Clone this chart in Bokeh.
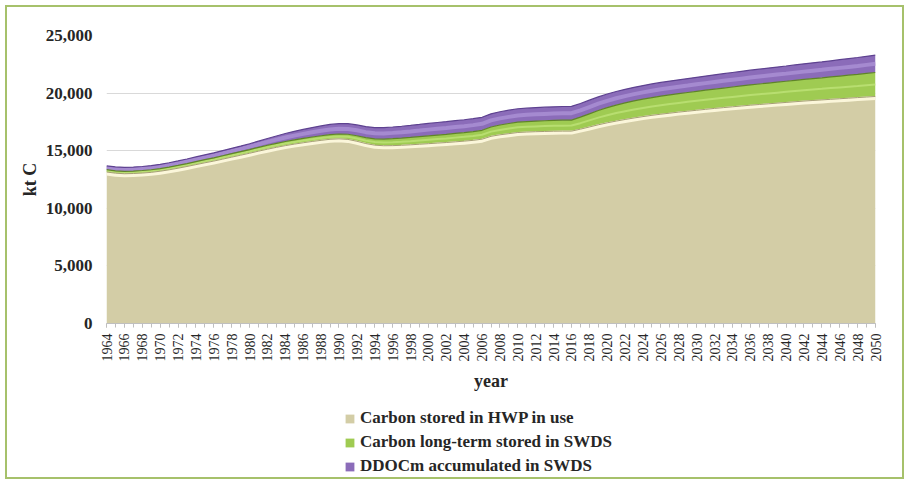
import numpy as np
from bokeh.plotting import figure
from bokeh.layouts import column
from bokeh.models import (ColumnDataSource, Range1d, FixedTicker, NumeralTickFormatter,
                          Legend, LegendItem)
from bokeh.embed import file_html
from bokeh.resources import INLINE

# ---------------- data (kt C) ----------------
years = list(range(1964, 2051))

hwp_in_use = [
    13150, 13050, 13000, 13020, 13060, 13120, 13220, 13340, 13480, 13630, 13790, 13950, 14100, 14270, 14440, 14610, 14780,
    14960, 15130, 15290, 15440, 15570, 15690, 15800, 15900, 15990, 16030,
    15980, 15820, 15620, 15480, 15430, 15440, 15470, 15510, 15560, 15610,
    15660, 15710, 15770, 15830, 15900, 16000, 16250, 16380, 16480, 16580,
    16620, 16650, 16670, 16690, 16700, 16700, 16870, 17060, 17250, 17420,
    17570, 17710, 17840, 17960, 18070, 18170, 18260, 18350, 18430, 18510,
    18590, 18670, 18740, 18810, 18880, 18950, 19010, 19070, 19130, 19190,
    19250, 19310, 19360, 19410, 19460, 19510, 19560, 19610, 19660, 19710,
]

swds_long_term = [
    200, 205, 210, 215, 220, 225, 230, 235, 240, 250, 260, 270, 280, 290, 300, 310, 320,
    330, 340, 350, 360, 370, 380, 390, 400, 410, 420,
    450, 480, 510, 540, 570, 600, 620, 640, 660, 680,
    700, 715, 730, 745, 760, 770, 810, 850, 880, 900,
    910, 920, 930, 940, 950, 960, 1040, 1140, 1240, 1320,
    1390, 1440, 1480, 1510, 1540, 1560, 1580, 1600, 1620, 1640,
    1660, 1680, 1700, 1720, 1740, 1760, 1780, 1800, 1820, 1840,
    1860, 1880, 1900, 1920, 1945, 1970, 1995, 2020, 2050, 2080,
]

ddocm_accumulated = [
    330, 335, 340, 345, 350, 360, 370, 380, 390, 400, 410, 420, 435, 450, 465, 480, 500,
    540, 590, 640, 690, 740, 780, 820, 850, 880, 900,
    920, 940, 960, 980, 1000, 1015, 1030, 1045, 1060, 1080,
    1090, 1100, 1105, 1110, 1120, 1130, 1140, 1150, 1155, 1160,
    1165, 1170, 1175, 1180, 1185, 1190, 1190, 1185, 1180, 1180,
    1180, 1180, 1180, 1185, 1190, 1195, 1200, 1205, 1210, 1220,
    1230, 1240, 1250, 1260, 1270, 1280, 1290, 1300, 1310, 1320,
    1335, 1350, 1365, 1380, 1400, 1420, 1440, 1460, 1480, 1500,
]

series_labels = ["Carbon stored in HWP in use",
                 "Carbon long-term stored in SWDS",
                 "DDOCm accumulated in SWDS"]
tick_years = years[::2]
y_ticks = [0, 5000, 10000, 15000, 20000, 25000]

assert len(hwp_in_use) == len(years) == len(swds_long_term) == len(ddocm_accumulated)

# ---------------- styling ----------------
fill_colors = ["#D3CDA6", "#9FCB52", "#8B6CB9"]
edge_colors = ["#A49E74", "#5F8428", "#5E4290"]
mid_colors = ["#FBF6DA", "#B8DE70", "#A58AD0"]
SERIF = "Liberation Serif"
W = 895

h = np.array(hwp_in_use, dtype=float)
g = np.array(swds_long_term, dtype=float)
d = np.array(ddocm_accumulated, dtype=float)
top1 = h
top2 = h + g
top3 = h + g + d

source = ColumnDataSource(dict(
    year=years, hwp=hwp_in_use, swds=swds_long_term, ddocm=ddocm_accumulated,
    top1=top1, top2=top2, top3=top3,
    hi1=top1 - 130, mid2=(top1 + top2) / 2, mid3=(top2 + top3) / 2,
))

p = figure(width=W, height=390, output_backend="svg", toolbar_location=None,
           x_range=Range1d(years[0], years[-1]), y_range=Range1d(0, 25000),
           min_border_left=99, min_border_right=27, min_border_top=28, min_border_bottom=74)
p.outline_line_color = None
p.background_fill_color = "white"
p.border_fill_color = "white"

renderers = p.varea_stack(stackers=["hwp", "swds", "ddocm"], x="year", color=fill_colors, source=source)

# bevel-like highlights and edges
p.line("year", "hi1", source=source, line_color=mid_colors[0], line_width=4)
p.line("year", "mid2", source=source, line_color=mid_colors[1], line_width=2)
p.line("year", "mid3", source=source, line_color=mid_colors[2], line_width=4)
p.line("year", "top1", source=source, line_color=edge_colors[0], line_width=1)
p.line("year", "top2", source=source, line_color=edge_colors[1], line_width=1.2)
p.line("year", "top3", source=source, line_color=edge_colors[2], line_width=1.2)

# grid
p.xgrid.visible = False
p.ygrid.ticker = FixedTicker(ticks=y_ticks)
p.ygrid.grid_line_color = "#D9D9D9"
p.ygrid.grid_line_width = 1

# y axis
p.yaxis.ticker = FixedTicker(ticks=y_ticks)
p.yaxis.formatter = NumeralTickFormatter(format="0,0")
p.yaxis.axis_line_color = None
p.yaxis.major_tick_line_color = None
p.yaxis.minor_tick_line_color = None
p.yaxis.major_label_standoff = 8
p.yaxis.major_label_text_font = SERIF
p.yaxis.major_label_text_font_style = "bold"
p.yaxis.major_label_text_font_size = "17px"
p.yaxis.major_label_text_color = "#262626"
p.yaxis.axis_label = "kt C"
p.yaxis.axis_label_text_font = SERIF
p.yaxis.axis_label_text_font_style = "bold"
p.yaxis.axis_label_text_font_size = "18px"
p.yaxis.axis_label_text_color = "#262626"
p.yaxis.axis_label_standoff = 3

# x axis
p.xaxis.ticker = FixedTicker(ticks=tick_years, minor_ticks=years)
p.xaxis.major_label_overrides = {yr: str(yr) for yr in tick_years}
p.xaxis.major_label_orientation = np.pi / 2
p.xaxis.axis_line_color = "#BFBFBF"
p.xaxis.major_tick_line_color = "#BFBFBF"
p.xaxis.minor_tick_line_color = "#BFBFBF"
p.xaxis.major_tick_in = 0
p.xaxis.major_tick_out = 4
p.xaxis.minor_tick_in = 0
p.xaxis.minor_tick_out = 4
p.xaxis.major_label_standoff = 6
p.xaxis.major_label_text_font = SERIF
p.xaxis.major_label_text_font_size = "14px"
p.xaxis.major_label_text_color = "#262626"
p.xaxis.axis_label = "year"
p.xaxis.axis_label_text_font = SERIF
p.xaxis.axis_label_text_font_style = "bold"
p.xaxis.axis_label_text_font_size = "18px"
p.xaxis.axis_label_text_color = "#262626"
p.xaxis.axis_label_standoff = 6

# ---------------- legend strip (separate figure so the legend is not clipped) ----------------
p2 = figure(width=W, height=80, output_backend="svg", toolbar_location=None,
            x_range=Range1d(0, 1), y_range=Range1d(0, 1),
            min_border=0, x_axis_type=None, y_axis_type=None)
p2.outline_line_color = None
p2.xgrid.visible = False
p2.ygrid.visible = False
p2.background_fill_color = "white"
p2.border_fill_color = "white"
# same series drawn outside the strip's visible range: only their legend swatches show
legend_renderers = p2.varea_stack(stackers=["hwp", "swds", "ddocm"], x="year",
                                  color=fill_colors, source=source)

items = [LegendItem(label=lab, renderers=[r]) for lab, r in zip(series_labels, legend_renderers)]
legend = Legend(items=items, location=(238, 1), orientation="vertical",
                padding=0, margin=0, spacing=4, label_height=20,
                glyph_width=11, glyph_height=11, label_standoff=5,
                border_line_color=None, background_fill_alpha=0)
legend.label_text_font = SERIF
legend.label_text_font_style = "bold"
legend.label_text_font_size = "17px"
legend.label_text_color = "#262626"
p2.add_layout(legend, "center")

layout = column(p, p2, spacing=0,
                styles={"border": "2px solid #A6C16B", "margin-left": "5px", "margin-top": "5px"})

open("out.html", "w").write(file_html(layout, INLINE))
